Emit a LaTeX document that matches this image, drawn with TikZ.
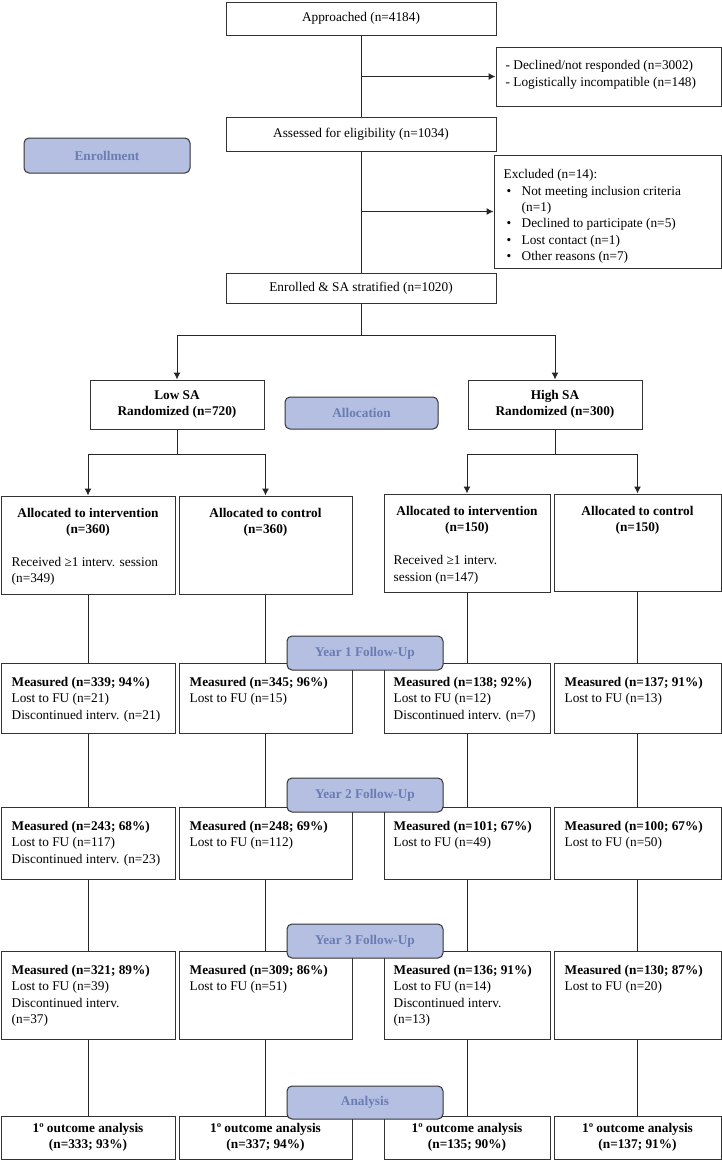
\documentclass[tikz,border=0pt]{standalone}
\usepackage{fontspec}
\setmainfont{Liberation Serif}
\usetikzlibrary{arrows.meta}
\definecolor{phasefill}{RGB}{181,191,226}
\definecolor{phasetext}{RGB}{106,124,178}
\newcommand{\exbullet}{\hspace*{3pt}\makebox[15pt][l]{\textbullet}}

\begin{document}
\begin{tikzpicture}[
  x=1pt, y=-1pt,
  box/.style={draw=black!80, line width=1pt, inner sep=0pt, align=center},
  phase/.style={box, fill=phasefill, rounded corners=5pt, text=phasetext, font=\bfseries},
  txt/.style={inner sep=0pt, anchor=north west, align=left},
  link/.style={draw=black!85, line width=1pt},
  arr/.style={link, -{Latex[length=7pt,width=7pt]}},
  wa/.style={box, minimum width=174},
  wb/.style={box, minimum width=173},
  wc/.style={box, minimum width=166},
  wd/.style={box, minimum width=167},
  r1/.style={minimum height=70},
  r2/.style={minimum height=72},
  r3/.style={minimum height=88},
  r4/.style={minimum height=43, font=\bfseries}
]
  \fontsize{13.3}{16.3}\selectfont
  \useasboundingbox (0,0) rectangle (722,1162);

  % enrollment
  \node[box, minimum width=270, minimum height=33] (appr) at (361,18.5) {Approached (n=4184)};
  \node[box, minimum width=225, minimum height=59] (decl) at (608.5,76.5) {};
  \node[txt] (decltxt) at ([shift={(10,14)}]decl.north west)
    {- Declined/not responded (n=3002)\\- Logistically incompatible (n=148)};
  \node[box, minimum width=270, minimum height=34] (elig) at (361,134) {Assessed for eligibility (n=1034)};
  \node[box, minimum width=227, minimum height=113] (excl) at (607.5,211.5) {};
  \node[txt] (excltxt) at ([shift={(10,15)}]excl.north west)
    {Excluded (n=14):\\
     \exbullet Not meeting inclusion criteria\\
     \hspace*{18pt}(n=1)\\
     \exbullet Declined to participate (n=5)\\
     \exbullet Lost contact (n=1)\\
     \exbullet Other reasons (n=7)};
  \node[box, minimum width=270, minimum height=30] (enr) at (361,288) {Enrolled \& SA stratified (n=1020)};

  % allocation
  \node[box, minimum width=174, minimum height=49, font=\bfseries] (low) at (177,404.5) {Low SA\\Randomized (n=720)};
  \node[box, minimum width=174, minimum height=49, font=\bfseries] (high) at (555,404.5) {High SA\\Randomized (n=300)};

  \node[wa, minimum height=98] (lowint) at (88,545) {};
  \node[txt, anchor=north, align=center, font=\bfseries] (lowinthd) at ([shift={(0,12.5)}]lowint.north) {Allocated to intervention\\(n=360)};
  \node[txt] (lowintrx) at ([shift={(11,61.5)}]lowint.north west) {Received ≥1 interv. session\\(n=349)};
  \node[wb, minimum height=98] (lowctl) at (265.5,545) {};
  \node[txt, anchor=north, align=center, font=\bfseries] (lowctlhd) at ([shift={(0,12.5)}]lowctl.north) {Allocated to control\\(n=360)};
  \node[wc, minimum height=98] (highint) at (467,543) {};
  \node[txt, anchor=north, align=center, font=\bfseries] (highinthd) at ([shift={(0,12.5)}]highint.north) {Allocated to intervention\\(n=150)};
  \node[txt] (highintrx) at ([shift={(10,62)}]highint.north west) {Received ≥1 interv.\\session (n=147)};
  \node[wd, minimum height=97] (highctl) at (637.5,542.5) {};
  \node[txt, anchor=north, align=center, font=\bfseries] (highctlhd) at ([shift={(0,12.5)}]highctl.north) {Allocated to control\\(n=150)};

  % year 1
  \node[wa, r1] (y1a) at (88,698) {};
  \node[txt] (y1at) at ([shift={(11,14.5)}]y1a.north west) {\textbf{Measured (n=339; 94\%)}\\Lost to FU (n=21)\\Discontinued interv. (n=21)};
  \node[wb, r1] (y1b) at (265.5,698) {};
  \node[txt] (y1bt) at ([shift={(11,14.5)}]y1b.north west) {\textbf{Measured (n=345; 96\%)}\\Lost to FU (n=15)};
  \node[wc, r1] (y1c) at (467,698) {};
  \node[txt] (y1ct) at ([shift={(10,14.5)}]y1c.north west) {\textbf{Measured (n=138; 92\%)}\\Lost to FU (n=12)\\Discontinued interv. (n=7)};
  \node[wd, r1] (y1d) at (637.5,698) {};
  \node[txt] (y1dt) at ([shift={(11,14.5)}]y1d.north west) {\textbf{Measured (n=137; 91\%)}\\Lost to FU (n=13)};

  % year 2
  \node[wa, r2] (y2a) at (88,843) {};
  \node[txt] (y2at) at ([shift={(11,14.5)}]y2a.north west) {\textbf{Measured (n=243; 68\%)}\\Lost to FU (n=117)\\Discontinued interv. (n=23)};
  \node[wb, r2] (y2b) at (265.5,843) {};
  \node[txt] (y2bt) at ([shift={(11,14.5)}]y2b.north west) {\textbf{Measured (n=248; 69\%)}\\Lost to FU (n=112)};
  \node[wc, r2] (y2c) at (467,843) {};
  \node[txt] (y2ct) at ([shift={(10,14.5)}]y2c.north west) {\textbf{Measured (n=101; 67\%)}\\Lost to FU (n=49)};
  \node[wd, r2] (y2d) at (637.5,843) {};
  \node[txt] (y2dt) at ([shift={(11,14.5)}]y2d.north west) {\textbf{Measured (n=100; 67\%)}\\Lost to FU (n=50)};

  % year 3
  \node[wa, r3] (y3a) at (88,995) {};
  \node[txt] (y3at) at ([shift={(11,14.5)}]y3a.north west) {\textbf{Measured (n=321; 89\%)}\\Lost to FU (n=39)\\Discontinued interv.\\(n=37)};
  \node[wb, r3] (y3b) at (265.5,995) {};
  \node[txt] (y3bt) at ([shift={(11,14.5)}]y3b.north west) {\textbf{Measured (n=309; 86\%)}\\Lost to FU (n=51)};
  \node[wc, r3] (y3c) at (467,995) {};
  \node[txt] (y3ct) at ([shift={(10,14.5)}]y3c.north west) {\textbf{Measured (n=136; 91\%)}\\Lost to FU (n=14)\\Discontinued interv.\\(n=13)};
  \node[wd, r3] (y3d) at (637.5,995) {};
  \node[txt] (y3dt) at ([shift={(11,14.5)}]y3d.north west) {\textbf{Measured (n=130; 87\%)}\\Lost to FU (n=20)};

  % analysis
  \node[wa, r4] (outa) at (88,1137.5) {1º outcome analysis\\(n=333; 93\%)};
  \node[wb, r4] (outb) at (265.5,1137.5) {1º outcome analysis\\(n=337; 94\%)};
  \node[wc, r4] (outc) at (467,1137.5) {1º outcome analysis\\(n=135; 90\%)};
  \node[wd, r4] (outd) at (637.5,1137.5) {1º outcome analysis\\(n=137; 91\%)};

  % connectors
  \draw[link] (appr) -- (elig);
  \draw[arr] (appr |- decl) -- (decl);
  \draw[link] (elig) -- (enr);
  \draw[arr] (elig |- excl) -- (excl);
  \coordinate (split) at (361,335);
  \draw[link] (enr) -- (split);
  \draw[arr] (split) -| (low);
  \draw[arr] (split) -| (high);
  \coordinate (lowsplit) at (177,454);
  \draw[link] (low) -- (lowsplit);
  \draw[arr] (lowsplit) -| (lowint);
  \draw[arr] (lowsplit) -| (lowctl);
  \coordinate (highsplit) at (555,454);
  \draw[link] (high) -- (highsplit);
  \draw[arr] (highsplit) -| (highint);
  \draw[arr] (highsplit) -| (highctl);

  \draw[link] (lowint) -- (y1a);
  \draw[link] (lowctl) -- (y1b);
  \draw[link] (highint) -- (y1c);
  \draw[link] (highctl) -- (y1d);
  \draw[link] (y1a) -- (y2a);
  \draw[link] (y1b) -- (y2b);
  \draw[link] (y1c) -- (y2c);
  \draw[link] (y1d) -- (y2d);
  \draw[link] (y2a) -- (y3a);
  \draw[link] (y2b) -- (y3b);
  \draw[link] (y2c) -- (y3c);
  \draw[link] (y2d) -- (y3d);
  \draw[link] (y3a) -- (outa);
  \draw[link] (y3b) -- (outb);
  \draw[link] (y3c) -- (outc);
  \draw[link] (y3d) -- (outd);

  % phase labels
  \node[phase, minimum width=166, minimum height=35] (enrol) at (107,155.5) {Enrollment};
  \node[phase, minimum width=153, minimum height=32] (alloc) at (361.5,413) {Allocation};
  \node[phase, minimum width=156, minimum height=34] (fu1) at (365,653) {Year 1 Follow-Up};
  \node[phase, minimum width=156, minimum height=34] (fu2) at (365,795) {Year 2 Follow-Up};
  \node[phase, minimum width=156, minimum height=34] (fu3) at (365,941) {Year 3 Follow-Up};
  \node[phase, minimum width=156, minimum height=33] (anl) at (365,1102.5) {Analysis};
\end{tikzpicture}
\end{document}
